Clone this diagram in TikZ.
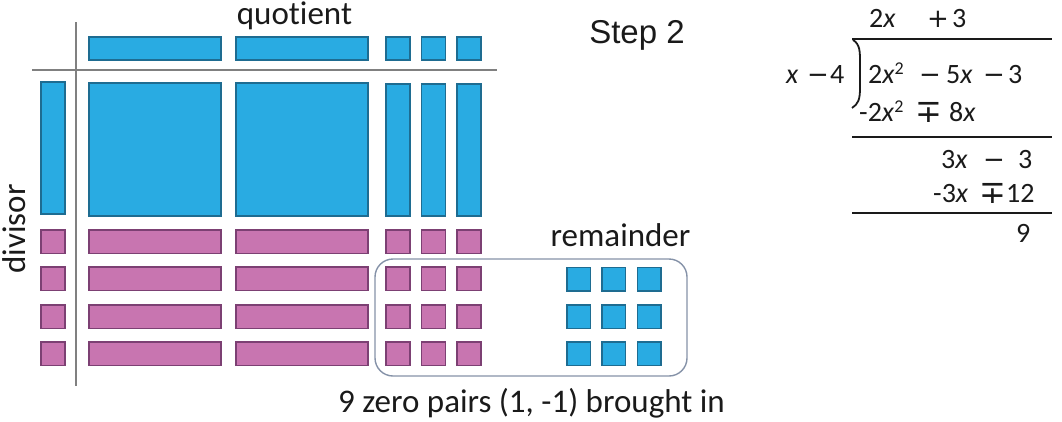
\documentclass[tikz,border=0pt]{standalone}
\usepackage{fontspec}
\setmainfont{Carlito}[Ligatures=NoCommon]
\newfontfamily\arialf{Liberation Sans}
\newfontfamily\dejavu{DejaVu Sans}
\definecolor{bluefill}{HTML}{29ABE2}
\definecolor{bluedraw}{HTML}{1E6C91}
\definecolor{pinkfill}{HTML}{C875B0}
\definecolor{pinkdraw}{HTML}{7C4073}
\definecolor{axisgray}{HTML}{808080}
\definecolor{boxgray}{HTML}{8592A8}
\definecolor{txt}{HTML}{1A1A1A}
\tikzset{
 bluetile/.style={draw=bluedraw, fill=bluefill, line width=1.1pt, inner sep=0pt, outer sep=0pt},
 pinktile/.style={draw=pinkdraw, fill=pinkfill, line width=1.1pt, inner sep=0pt, outer sep=0pt},
 lbl/.style={inner sep=0pt, text=txt, anchor=base, font=\fontsize{33}{40}\selectfont},
 dv/.style={inner sep=0pt, anchor=base west, text=txt, font=\fontsize{28}{32}\selectfont},
 op/.style={dv, font=\dejavu\fontsize{26}{32}\selectfont},
 mpop/.style={dv, font=\dejavu\fontsize{32}{36}\selectfont},
 axisline/.style={draw=axisgray, line width=1.4pt},
 divline/.style={draw=txt, line width=2pt},
 zerobox/.style={draw=boxgray, line width=1.4pt, rounded corners=18pt, inner sep=0pt, outer sep=0pt}
}
\newcommand\mytile[6]{\node[#1, minimum width={(#5-#3)*1pt}, minimum height={(#6-#4)*1pt}] (#2) at ({(#3+#5)/2},{(#4+#6)/2}) {};}
\newcommand\sqtwo{\raisebox{9pt}{\fontsize{18}{20}\selectfont 2}}
\begin{document}
\begin{tikzpicture}[x=1pt,y=-1pt]
\useasboundingbox (0,0) rectangle (1062,421);
% axes
\coordinate (vtop) at (76,22);
\coordinate (vbot) at (76,386);
\coordinate (hl) at (32,70);
\coordinate (hr) at (497,70);
\draw[axisline] (vtop) -- (vbot);
\draw[axisline] (hl) -- (hr);
% quotient row
\mytile{bluetile}{q1}{89}{37}{221}{60}
\mytile{bluetile}{q2}{236}{37}{368}{60}
\mytile{bluetile}{q3}{386}{37}{410}{60}
\mytile{bluetile}{q4}{421.5}{37}{445.5}{60}
\mytile{bluetile}{q5}{457}{37}{481}{60}
% divisor x tile
\mytile{bluetile}{d0}{41}{82}{65}{214}
% x^2 tiles
\mytile{bluetile}{b1}{89}{83}{221}{216}
\mytile{bluetile}{b2}{236}{83}{368}{216}
% x strips
\mytile{bluetile}{s1}{386}{84}{410}{216}
\mytile{bluetile}{s2}{421.5}{84}{445.5}{216}
\mytile{bluetile}{s3}{457}{84}{481}{216}
% pink rows
\foreach \r/\y in {1/230,2/267,3/305,4/342}{
  \mytile{pinktile}{pa\r}{41}{\y}{65}{\y+23.5}
  \mytile{pinktile}{pb\r}{89}{\y}{221}{\y+23.5}
  \mytile{pinktile}{pc\r}{236}{\y}{368}{\y+23.5}
  \mytile{pinktile}{pd\r}{386}{\y}{410}{\y+23.5}
  \mytile{pinktile}{pe\r}{421.5}{\y}{445.5}{\y+23.5}
  \mytile{pinktile}{pf\r}{457}{\y}{481}{\y+23.5}
}
% remainder blue tiles
\foreach \r/\y in {2/267.5,3/305,4/342}{
  \mytile{bluetile}{ra\r}{567}{\y}{590.5}{\y+23.5}
  \mytile{bluetile}{rb\r}{602}{\y}{625.5}{\y+23.5}
  \mytile{bluetile}{rc\r}{637.5}{\y}{661}{\y+23.5}
}
% zero pair box
\mytile{zerobox}{zb}{375}{259}{687}{376}
% labels
\node[lbl] (quot) at (294.5,24) {quotient};
\node[lbl, rotate=90] (divs) at (25,229) {divisor};
\node[lbl] (rem) at (620.5,246) {remainder};
\node[lbl] (zp) at (531.5,412) {9 zero pairs (1, -1) brought in};
\node[lbl, font=\arialf\fontsize{33}{40}\selectfont] (step) at (637,43) {Step 2};
% long division
\node[dv] (t1) at (869,27) {2\textit{x}};
\node[op] (t2) at (927,27) {+};
\node[dv] (t3) at (952,27) {3};
\node[dv] (a1) at (786,83) {\textit{x}};
\node[op] (a2) at (807,83) {−};
\node[dv] (a3) at (830,83) {4};
\node[dv] (b1t) at (868,83) {2\textit{x}\sqtwo};
\node[op] (b2t) at (919,83) {−};
\node[dv] (b3t) at (946,83) {5\textit{x}};
\node[op] (b4t) at (983,83) {−};
\node[dv] (b5t) at (1008,83) {3};
\node[dv] (c1) at (859,121) {-2\textit{x}\sqtwo};
\node[mpop] (c2) at (915,122) {∓};
\node[dv] (c3) at (949,121) {8\textit{x}};
\node[dv] (e1) at (941,168) {3\textit{x}};
\node[op] (e2) at (983,168) {−};
\node[dv] (e3) at (1018,168) {3};
\node[dv] (f1) at (933,202) {-3\textit{x}};
\node[mpop] (f2) at (979,203) {∓};
\node[dv] (f3) at (1006,202) {12};
\node[dv] (g1) at (1016,242) {9};
% division lines and bracket
\coordinate (l1a) at (852,39); \coordinate (l1b) at (1052,39);
\coordinate (l2a) at (852,137); \coordinate (l2b) at (1052,137);
\coordinate (l3a) at (852,213); \coordinate (l3b) at (1052,213);
\draw[divline] (l1a) -- (l1b);
\draw[divline] (l2a) -- (l2b);
\draw[divline] (l3a) -- (l3b);
\coordinate (brt) at (853,40);
\coordinate (brb) at (852,108);
\draw[divline, line width=1.8pt] (brt) .. controls (860,44) and (860,52) .. (860,62) -- (860,88) .. controls (860,100) and (858,104) .. (brb);
\end{tikzpicture}
\end{document}
